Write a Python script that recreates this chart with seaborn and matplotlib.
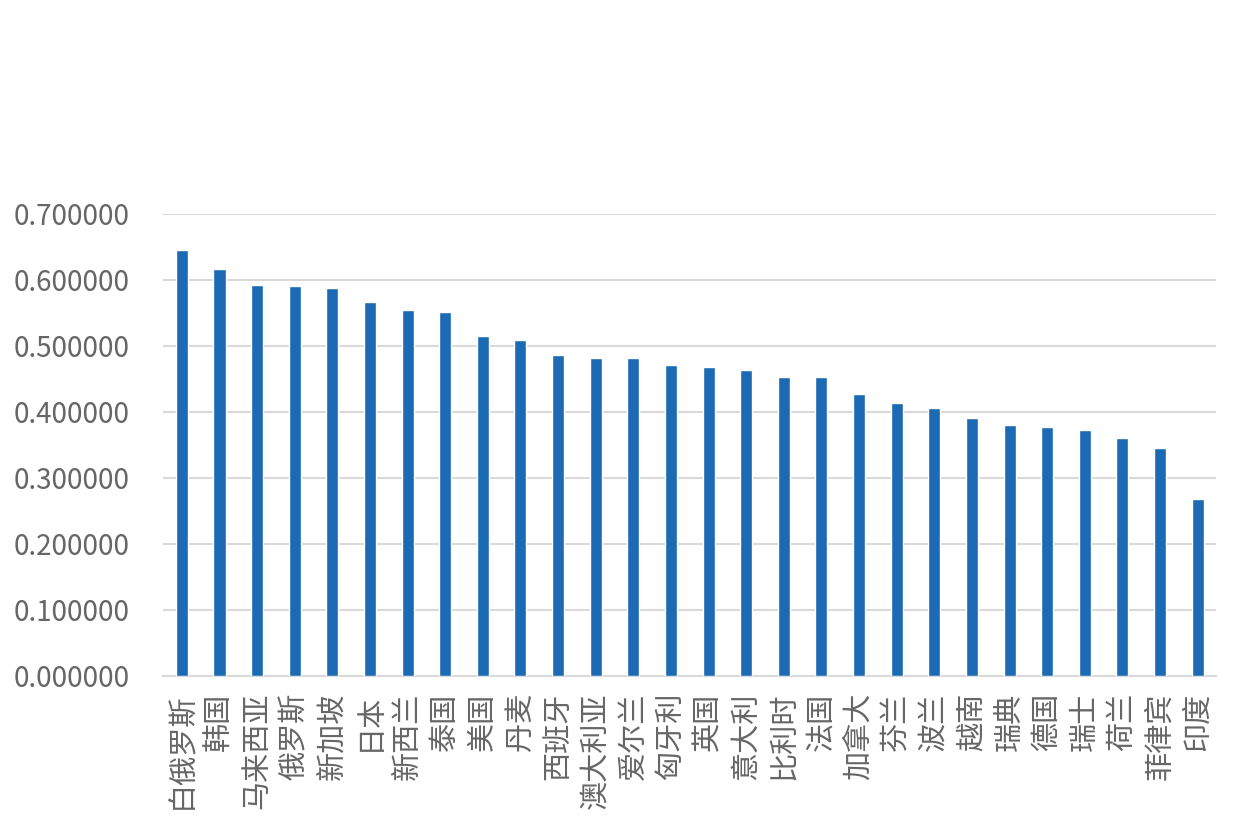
import pandas as pd
import matplotlib
matplotlib.use("Agg")
import matplotlib.pyplot as plt
import seaborn as sns
from matplotlib.ticker import FormatStrFormatter

# values
countries = ["白俄罗斯", "韩国", "马来西亚", "俄罗斯", "新加坡", "日本", "新西兰", "泰国",
             "美国", "丹麦", "西班牙", "澳大利亚", "爱尔兰", "匈牙利", "英国", "意大利",
             "比利时", "法国", "加拿大", "芬兰", "波兰", "越南", "瑞典", "德国",
             "瑞士", "荷兰", "菲律宾", "印度"]
values = [0.6455, 0.6165, 0.592, 0.590, 0.587, 0.567, 0.554, 0.551,
          0.515, 0.509, 0.486, 0.482, 0.482, 0.471, 0.468, 0.464,
          0.453, 0.453, 0.427, 0.414, 0.406, 0.391, 0.380, 0.377,
          0.372, 0.361, 0.346, 0.268]
yticks = [0.0, 0.1, 0.2, 0.3, 0.4, 0.5, 0.6, 0.7]

df = pd.DataFrame({"country": countries, "value": values})

sns.set_theme(style="white")
plt.rcParams["font.family"] = ["Noto Sans CJK SC", "DejaVu Sans"]

fig = plt.figure(figsize=(12.4, 8.27), dpi=100)
ax = fig.add_axes([0.1315, 0.1826, 0.8495, 0.5588])

sns.barplot(data=df, x="country", y="value", color="#1c6ab4", saturation=1,
            width=0.32, ax=ax, zorder=3)

ax.set_ylim(0, 0.7)
ax.set_xlim(-0.5, len(countries) - 0.5)
ax.set_yticks(yticks)
ax.yaxis.set_major_formatter(FormatStrFormatter("%.6f"))
ax.grid(axis="y", color="#d9d9d9", linewidth=1.5, zorder=0)
ax.set_axisbelow(True)
ax.set_xlabel("")
ax.set_ylabel("")

for s in ["left", "right", "top"]:
    ax.spines[s].set_visible(False)
ax.spines["bottom"].set_color("#d9d9d9")
ax.spines["bottom"].set_linewidth(1.5)

ax.tick_params(axis="y", length=0, pad=24, labelsize=20, labelcolor="#666666")
ax.tick_params(axis="x", length=0, pad=12, labelsize=21, labelcolor="#666666")
for lab in ax.get_xticklabels():
    lab.set_rotation(90)
    lab.set_va("top")
    lab.set_ha("center")
for lab in ax.get_yticklabels():
    lab.set_fontweight("light")

fig.savefig("out.png", dpi=100)
